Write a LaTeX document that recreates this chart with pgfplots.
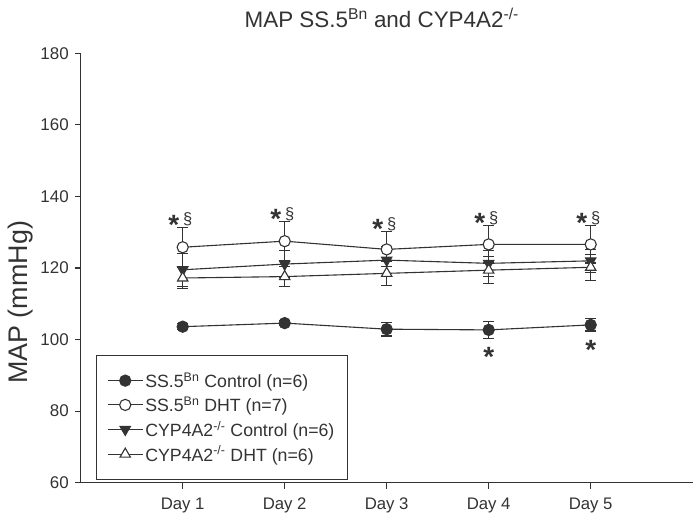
\documentclass[border=0pt]{standalone}
\usepackage{fontspec}
\setmainfont{Liberation Sans}
\usepackage{pgfplots}
\pgfplotsset{compat=1.18}
\definecolor{ax}{gray}{0.2}
\begin{document}
\begin{tikzpicture}
\path[use as bounding box] (-80.7bp,-35.3bp) rectangle (613.3bp,482.7bp);
\begin{axis}[
  scale only axis, width=612bp, height=429.4bp,
  xmin=0, xmax=6, ymin=60, ymax=180,
  axis x line*=bottom, axis y line*=left,
  axis line style={line width=1.1bp, color=ax},
  tick style={line width=1.1bp, color=ax},
  tick align=outside, major tick length=6bp,
  xtick={1,2,3,4,5}, xticklabels={Day 1,Day 2,Day 3,Day 4,Day 5},
  ytick={60,80,...,180},
  /pgf/number format/assume math mode=true,
  yticklabel style={font=\fontsize{17}{17}\selectfont, text=ax, xshift=-2.5bp},
  xticklabel style={font=\fontsize{16.8}{16.8}\selectfont, text=ax, yshift=-6bp},
  ylabel={MAP (mmHg)},
  ylabel style={at={(axis description cs:-0.0984,0.42)}, anchor=center, font=\fontsize{27}{27}\selectfont, text=ax},
  legend style={at={(rel axis cs:0.0245,0.0063)}, anchor=south west, draw=ax, line width=1bp,
     font=\fontsize{17.8}{17.8}\selectfont, row sep=4bp, inner xsep=11bp, inner ysep=15bp, text=ax},
  legend cell align=left,
  legend image code/.code={\draw[mark repeat=2,mark phase=2] plot coordinates {(0bp,0bp) (17.5bp,0bp) (35bp,0bp)};},
  clip=false,
]
\addplot[ax, line width=1.1bp, mark=*, mark size=5.6bp, mark options={fill=ax, solid},
  error bars/.cd, y dir=both, y explicit,
  error bar style={line width=1.1bp, ax},
  error mark options={rotate=90, mark size=5.5bp, line width=1.1bp, ax}]
table[x=x, y=y, y error=e] {
x y e
1 103.6 0.8
2 104.6 0.7
3 102.9 1.9
4 102.7 2.3
5 104.1 1.7
};
\addlegendentry{SS.5\textsuperscript{Bn} Control (n=6)}
\addplot[ax, line width=1.1bp, mark=*, mark size=5.6bp, mark options={fill=white, solid},
  error bars/.cd, y dir=both, y explicit,
  error bar style={line width=1.1bp, ax},
  error mark options={rotate=90, mark size=5.5bp, line width=1.1bp, ax}]
table[x=x, y=y, y error=e] {
x y e
1 125.8 5.6
2 127.5 5.4
3 125.2 4.9
4 126.6 5.2
5 126.6 5.2
};
\addlegendentry{SS.5\textsuperscript{Bn} DHT (n=7)}
\addplot[ax, line width=1.1bp, mark=triangle*, mark size=6bp, mark options={fill=ax, rotate=180, solid},
  error bars/.cd, y dir=both, y explicit,
  error bar style={line width=1.1bp, ax},
  error mark options={rotate=90, mark size=5.5bp, line width=1.1bp, ax}]
table[x=x, y=y, y error=e] {
x y e
1 119.5 4.6
2 121.1 3.8
3 122.2 3.8
4 121.3 3.6
5 122.0 3.2
};
\addlegendentry{CYP4A2\textsuperscript{-/-} Control (n=6)}
\addplot[ax, line width=1.1bp, mark=triangle*, mark size=6bp, mark options={fill=white, solid},
  error bars/.cd, y dir=both, y explicit,
  error bar style={line width=1.1bp, ax},
  error mark options={rotate=90, mark size=5.5bp, line width=1.1bp, ax}]
table[x=x, y=y, y error=e] {
x y e
1 117.2 2.9
2 117.6 2.8
3 118.5 3.3
4 119.4 3.7
5 120.2 3.6
};
\addlegendentry{CYP4A2\textsuperscript{-/-} DHT (n=6)}
% significance marks
\def\stf{\fontsize{28}{28}\bfseries\selectfont}
\def\sef{\fontsize{16.5}{16.5}\selectfont}
\node[font=\stf, text=ax, anchor=base, xshift=-9bp, yshift=-7bp] at (axis cs:1,131.4) {*};
\node[font=\sef, text=ax, anchor=base, xshift=5bp, yshift=2.5bp] at (axis cs:1,131.4) {§};
\node[font=\stf, text=ax, anchor=base, xshift=-9bp, yshift=-7bp] at (axis cs:2,132.9) {*};
\node[font=\sef, text=ax, anchor=base, xshift=5bp, yshift=2.5bp] at (axis cs:2,132.9) {§};
\node[font=\stf, text=ax, anchor=base, xshift=-9bp, yshift=-7bp] at (axis cs:3,130.1) {*};
\node[font=\sef, text=ax, anchor=base, xshift=5bp, yshift=2.5bp] at (axis cs:3,130.1) {§};
\node[font=\stf, text=ax, anchor=base, xshift=-9bp, yshift=-7bp] at (axis cs:4,131.8) {*};
\node[font=\sef, text=ax, anchor=base, xshift=5bp, yshift=2.5bp] at (axis cs:4,131.8) {§};
\node[font=\stf, text=ax, anchor=base, xshift=-9bp, yshift=-7bp] at (axis cs:5,131.8) {*};
\node[font=\sef, text=ax, anchor=base, xshift=5bp, yshift=2.5bp] at (axis cs:5,131.8) {§};
\node[font=\stf, text=ax, anchor=base, yshift=-16bp] at (axis cs:4,97.0) {*};
\node[font=\stf, text=ax, anchor=base, yshift=-16bp] at (axis cs:5,99.0) {*};
% title
\node[font=\fontsize{22.5}{22.5}\selectfont, text=ax, anchor=base] at (rel axis cs:0.492,1.061) {MAP SS.5\textsuperscript{Bn} and CYP4A2\textsuperscript{-/-}};
\end{axis}
\end{tikzpicture}
\end{document}
